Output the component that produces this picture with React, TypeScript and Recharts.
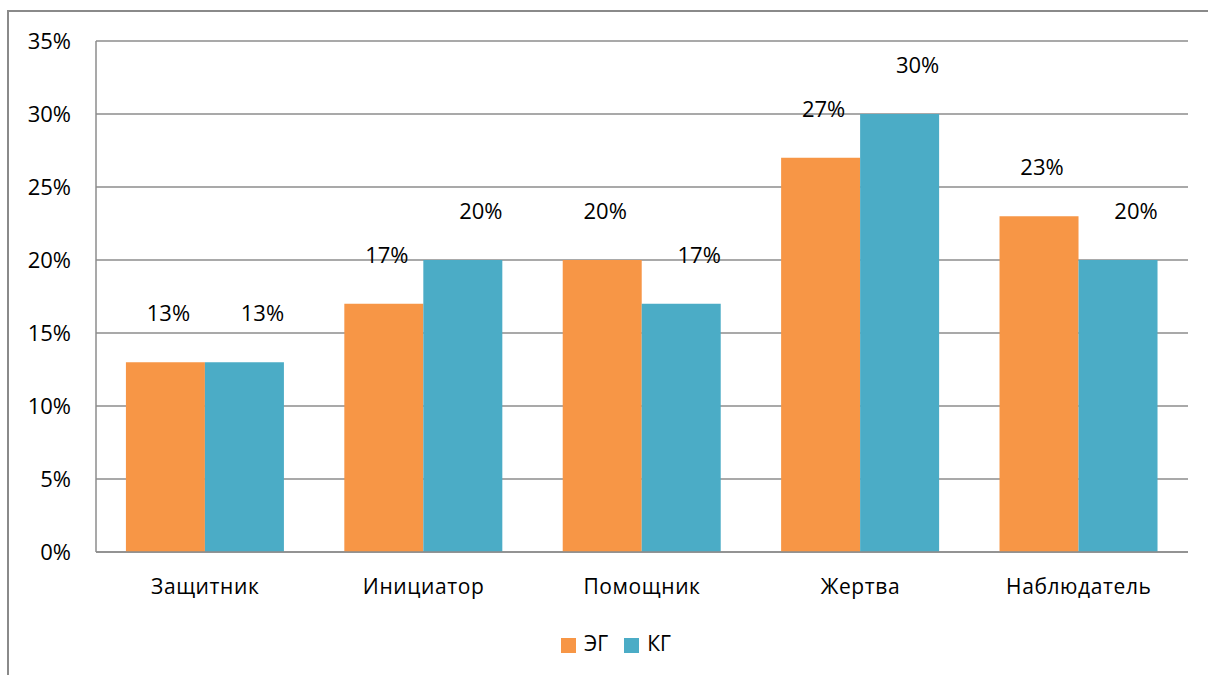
import { BarChart, Bar, XAxis, YAxis, CartesianGrid, Legend, LabelList } from "recharts";

const roles = ["Защитник", "Инициатор", "Помощник", "Жертва", "Наблюдатель"];
const eg = [13, 17, 20, 27, 23];
const kg = [13, 20, 17, 30, 20];
const yTicks = [0, 5, 10, 15, 20, 25, 30, 35];

const data = roles.map((role, i) => ({ role, eg: eg[i], kg: kg[i] }));

const font = "'Open Sans', 'Noto Sans', sans-serif";
const pct = (v: number) => `${v}%`;

const App = () => {
  return (
    <div style={{ position: "relative", width: 1208, height: 675, overflow: "hidden", fontFamily: font }}>
      <style>{`body{margin:0;overflow:hidden}`}</style>
      {/* рамка области диаграммы */}
      <div
        style={{
          position: "absolute",
          left: 7,
          top: 10,
          width: 1240,
          height: 720,
          border: "2px solid #8a8a8a",
        }}
      />
      <div style={{ position: "absolute", left: 0, top: 0 }}>
        <BarChart
          width={1208}
          height={675}
          data={data}
          margin={{ top: 41, right: 20, left: 0, bottom: 65 }}
          barGap={0}
          barCategoryGap="13.7%"
        >
          <CartesianGrid vertical={false} stroke="#8c8c8c" strokeWidth={1.5} />
          <XAxis
            dataKey="role"
            stroke="#8c8c8c"
            strokeWidth={1.5}
            tickLine={false}
            tickSize={0}
            tickMargin={27}
            tick={{ fill: "#000", fontSize: 21, fontFamily: font, letterSpacing: 0.6 }}
          />
          <YAxis
            width={96}
            domain={[0, 35]}
            ticks={yTicks}
            tickFormatter={pct}
            stroke="#8c8c8c"
            strokeWidth={1.5}
            tickLine={false}
            tickSize={0}
            tickMargin={25}
            tick={{ fill: "#000", fontSize: 22, fontFamily: font }}
          />
          <Legend
            verticalAlign="bottom"
            iconType="square"
            iconSize={15}
            itemSorter="dataKey"
            wrapperStyle={{ top: 629, left: 30, fontSize: 21, fontFamily: font }}
            formatter={(value) => (
              <span style={{ color: "#000", marginLeft: 4, marginRight: 6 }}>{value}</span>
            )}
          />
          <Bar dataKey="eg" name="ЭГ" fill="#F79646" isAnimationActive={false}>
            <LabelList
              dataKey="eg"
              position="top"
              offset={41}
              formatter={pct}
              fill="#000"
              fontSize={22}
              fontFamily={font}
              dx={3}
            />
          </Bar>
          <Bar dataKey="kg" name="КГ" fill="#4BACC6" isAnimationActive={false}>
            <LabelList
              dataKey="kg"
              position="top"
              offset={41}
              formatter={pct}
              fill="#000"
              fontSize={22}
              fontFamily={font}
              dx={18}
            />
          </Bar>
        </BarChart>
      </div>
    </div>
  );
};

export default App;
